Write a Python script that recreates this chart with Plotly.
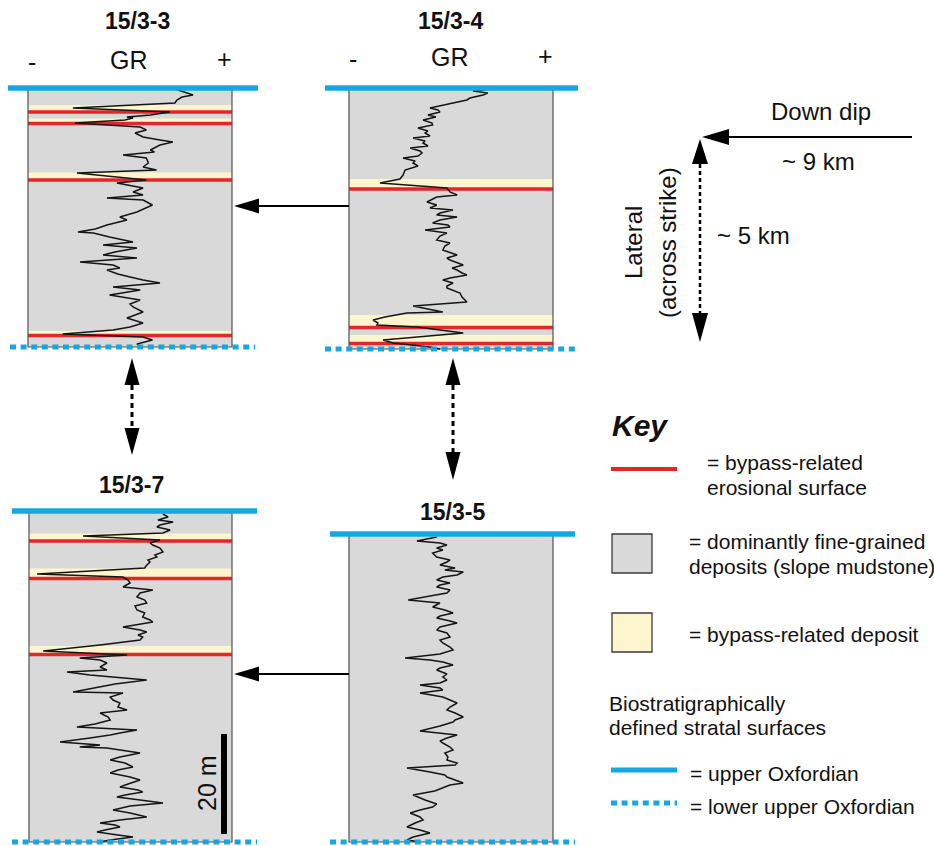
import plotly.graph_objects as go

W, H = 934, 846
FONT = "Liberation Sans, Arial, Helvetica, sans-serif"
BLUE = "#17a7e0"
RED = "#e3262b"
GREY = "#d9d9d9"
YELLOW = "#fcf5cd"
INK = "#151515"

# ---------------- data ----------------
well_names = ["15/3-3", "15/3-4", "15/3-7", "15/3-5"]
well_base_depth_m = [51.8, 52.2, 66.2, 61.6]

depth_15_3_3 = [0, 1.4, 1.8, 2.4, 3.0, 4.0, 4.8, 5.4, 5.8, 6.0, 6.4, 7.0, 7.8, 8.4, 9.0, 9.8, 10.4, 10.8, 11.4, 11.8,
                12.4, 12.8, 13.4, 14.0, 15.0, 15.8, 16.4, 17.0, 18.4, 19.0, 19.8, 20.0, 20.8, 21.4, 22.0, 22.4, 23.4,
                24.0, 24.8, 25.8, 26.4, 27.4, 28.2, 28.8, 29.0, 29.8, 30.4, 30.8, 31.4, 31.8, 32.0, 32.8, 33.4, 34.0,
                34.8, 35.4, 36.0, 36.4, 37.2, 37.8, 38.4, 39.0, 39.8, 40.4, 41.4, 42.4, 43.2, 43.8, 44.8, 45.4, 46.0,
                47.0, 47.8, 48.4, 49.2, 49.8, 50.4, 51.2, 51.8]
gr_15_3_3 = [70.6, 80.9, 75.5, 73, 72, 22, 69.6, 60, 48.5, 51.5, 47.5, 23, 55, 58, 52.5, 56.4, 64.7, 71, 64.7, 63,
             60, 62, 46.6, 58, 59, 56.4, 63, 24, 58, 43.6, 55, 56.4, 51.5, 56.4, 38.7, 56.4, 61,
             58, 53.4, 45, 48.5, 38.7, 33, 24.5, 32, 40, 47.5, 51.5, 36.8, 50, 53.4, 42.6, 36.8, 53.4,
             25.5, 41.7, 45, 38.7, 44, 50, 56.4, 64.7, 41.7, 55, 40, 55, 50, 51.5, 56.4, 52.5, 48.5,
             56.4, 50, 41.7, 17, 56.4, 61, 53.4, 55]
bypass_top_15_3_3 = [3.4, 6.1, 16.9, 48.6]
erosion_15_3_3 = [4.8, 7.1, 18.4, 49.5]

depth_15_3_4 = [0.2, 0.6, 1.0, 1.4, 2.0, 2.4, 3.0, 3.4, 3.6, 4.0, 4.4, 4.8, 5.4, 5.8, 6.4, 7.0, 7.4, 8.0, 8.6, 9.0,
                9.6, 10.0, 10.6, 11.0, 11.6, 12.0, 12.6, 13.0, 13.6, 14.0, 14.6, 15.0, 15.6, 16.4, 17.4, 18.2, 19.0,
                19.6, 20.0, 20.8, 21.4, 21.8, 22.8, 23.4, 24.0, 24.4, 25.0, 25.4, 25.8, 26.4, 27.0, 27.4, 27.8, 28.4,
                29.0, 29.6, 30.4, 31.0, 31.6, 32.4, 33.0, 33.4, 34.0, 34.4, 35.0, 35.4, 36.0, 36.4, 37.0, 37.4, 38.0,
                38.4, 39.0, 39.6, 40.0, 40.6, 41.0, 41.8, 42.8, 43.6, 44.2, 44.8, 45.0, 45.8, 46.4, 47.0, 47.4, 47.8,
                48.4, 49.0, 49.4, 49.8, 50.4, 51.0, 51.4, 51.8, 52.2]
gr_15_3_4 = [70, 60.8, 68, 65.7, 59.3, 57.8, 51, 46, 43, 39.7, 43.6, 44.6, 38.7, 42.6, 36.3, 40.7, 41, 33.8, 38.7, 37.3,
             39.7, 31.4, 37.3, 36.3, 38.7, 30, 34.8, 35.8, 33.8, 26.5, 32.4, 31.4, 33.8, 27.5, 26.5, 25, 15.2,
             34.8, 48, 49.5, 53, 43, 38.2, 43, 39.7, 51, 44.6, 43, 53, 44.6, 41, 48.5, 49.5, 37.3,
             48, 44.6, 43, 49.5, 47, 46, 50.5, 53, 48, 49.5, 53.4, 56, 50.5, 53, 55.4, 57.8, 49.5,
             46, 51, 48, 48, 52, 54.4, 55.4, 57.8, 31.4, 39.7, 46, 28.4, 17.6, 11.8, 14.2, 13.7, 33.3,
             44.6, 56, 44.6, 33.3, 16.7, 21.6, 30, 39.7, 44.6]
bypass_top_15_3_4 = [18.2, 45.4, 49.4]
erosion_15_3_4 = [20.2, 47.9, 51.1]

depth_15_3_7 = [0.6, 1.2, 1.8, 2.2, 2.8, 3.2, 3.8, 4.4, 5.0, 5.8, 6.4, 6.8, 7.4, 8.2, 8.8, 9.2, 9.8, 10.2, 11.0, 11.4,
                12.6, 13.2, 13.8, 14.4, 15.2, 15.8, 16.4, 17.2, 17.8, 18.4, 19.0, 19.8, 20.4, 21.2, 21.8, 22.2, 22.8,
                23.2, 23.8, 24.2, 24.8, 25.2, 25.8, 26.8, 28.0, 28.8, 29.4, 29.8, 30.4, 31.2, 31.8, 32.2, 32.8, 33.4,
                33.8, 34.6, 35.2, 35.8, 36.2, 36.4, 37.2, 37.8, 38.4, 39.2, 39.8, 40.4, 41.2, 41.8, 42.6, 43.2, 43.8,
                44.4, 44.8, 45.4, 46.2, 46.8, 47.2, 47.4, 48.0, 48.4, 49.2, 49.8, 50.4, 51.2, 51.8, 52.4, 53.2, 53.8,
                54.6, 55.2, 55.8, 56.2, 56.8, 57.2, 57.8, 58.4, 59.0, 59.8, 60.4, 61.2, 61.8, 62.4, 62.8, 63.2, 63.8,
                64.2, 64.8, 65.2, 65.8, 66.2]
gr_15_3_7 = [66, 68.5, 63.5, 71, 64.5, 63, 69.5, 66, 26.6, 64.5, 59.6, 61, 64.5, 66, 62, 63, 58.6, 59.6, 57.6, 57,
             4, 46.3, 48.8, 49.8, 46.3, 61, 54.7, 53.2, 57, 58, 52.2, 53.2, 57, 56, 59.6, 61, 52.2,
             46.3, 54.7, 58, 53.7, 56, 54.7, 35, 7, 48.3, 25, 35, 38.4, 35, 38.4, 18.7, 30, 44.8,
             58, 42.4, 35, 27.6, 21.7, 46.3, 40, 41.4, 44.8, 43.8, 48.3, 35, 39, 40, 32.5, 23.6, 53.2,
             44.8, 40, 30, 15.3, 35, 25, 38.4, 47.3, 54.7, 44.8, 40, 47.3, 51.2, 43.8, 40, 49.8, 54.7,
             48.8, 44.8, 53.7, 56, 47.3, 43.3, 54.7, 66, 49.8, 41.4, 49.8, 58, 44.8, 35, 42.4, 44.8, 37.4,
             33.5, 43.8, 51.2, 40, 35]
bypass_top_15_3_7 = [4.5, 11.5, 27.0]
erosion_15_3_7 = [6.0, 13.5, 28.7]

depth_15_3_5 = [0.6, 1.0, 1.4, 1.8, 2.2, 2.8, 3.2, 3.8, 4.6, 5.2, 5.6, 6.2, 6.8, 7.2, 7.6, 8.2, 8.6, 9.2, 9.8, 10.2,
                10.6, 11.2, 11.8, 12.4, 13.2, 13.8, 14.2, 14.6, 15.2, 15.8, 16.4, 16.8, 17.4, 17.8, 18.6, 19.2, 19.8,
                20.6, 21.2, 21.8, 22.6, 23.2, 24.0, 24.8, 25.2, 25.6, 26.2, 26.8, 27.2, 28.0, 28.6, 29.2, 29.8, 30.2,
                30.8, 31.2, 31.8, 32.6, 33.2, 33.8, 34.6, 35.2, 35.8, 36.6, 37.2, 37.6, 38.4, 39.4, 40.2, 40.8, 41.4,
                41.8, 42.6, 43.2, 43.8, 44.6, 45.2, 45.8, 46.2, 46.8, 47.6, 48.2, 48.6, 49.2, 49.8, 50.2, 50.8, 51.4,
                52.2, 53.2, 54.0, 54.6, 55.2, 55.8, 56.6, 57.2, 57.8, 58.6, 59.2, 59.8, 60.6, 61.2, 61.6]
gr_15_3_5 = [43, 37.3, 33.3, 44.6, 48, 43, 46, 41, 43, 49.5, 48, 44.6, 52, 47, 56, 53, 46, 43, 49.5, 44.6,
             43, 49.5, 48, 39.7, 29, 44.6, 43, 41, 47, 51, 44.6, 43, 49.5, 53, 44.6, 43, 48,
             49.5, 44.6, 46, 49.5, 51, 44.6, 27.5, 39.7, 46, 51, 44.6, 43, 48, 46, 48, 44.6, 34.8,
             44.6, 46, 34.8, 46, 49.5, 53, 49.5, 48, 52, 56, 52, 51, 44.6, 34.8, 53, 48, 44.6,
             46, 49.5, 51, 47, 48.5, 48, 53, 52, 28.4, 39.7, 47, 48, 52, 56, 49.5, 46, 42,
             31.4, 37.3, 43, 41, 34.8, 30, 34.8, 36.3, 32.4, 28.4, 34.8, 39.7, 31.4, 28.4, 34.8]
bypass_top_15_3_5 = []
erosion_15_3_5 = []

scale_bar_m = 20

# ---------------- layout geometry (pixels) ----------------
PX_PER_M = 5.0
geom = {
    "15/3-3": dict(box=(28, 232), top=88, top_line=(8, 258), base_line=(10, 255)),
    "15/3-4": dict(box=(349, 553), top=88, top_line=(325, 578), base_line=(325, 578)),
    "15/3-7": dict(box=(29, 232), top=511, top_line=(12, 257), base_line=(12, 257)),
    "15/3-5": dict(box=(349, 553), top=534, top_line=(330, 575), base_line=(330, 575)),
}

wells = [
    (well_names[0], depth_15_3_3, gr_15_3_3, bypass_top_15_3_3, erosion_15_3_3, well_base_depth_m[0]),
    (well_names[1], depth_15_3_4, gr_15_3_4, bypass_top_15_3_4, erosion_15_3_4, well_base_depth_m[1]),
    (well_names[2], depth_15_3_7, gr_15_3_7, bypass_top_15_3_7, erosion_15_3_7, well_base_depth_m[2]),
    (well_names[3], depth_15_3_5, gr_15_3_5, bypass_top_15_3_5, erosion_15_3_5, well_base_depth_m[3]),
]

fig = go.Figure()
shapes = []
annotations = []
axes = {}

for k, (name, dep, gr, btop, ero, base) in enumerate(wells, start=1):
    g = geom[name]
    bl, br = g["box"]
    s = (br - bl) / 100.0
    top = g["top"]
    bottom_px = top + base * PX_PER_M
    x0p = min(g["top_line"][0], g["base_line"][0]) - 4
    x1p = max(g["top_line"][1], g["base_line"][1]) + 4
    y0p = max(top - 10, 0)
    y1p = min(bottom_px + 10, H)
    xa = "x" if k == 1 else f"x{k}"
    ya = "y" if k == 1 else f"y{k}"
    axes["xaxis" if k == 1 else f"xaxis{k}"] = dict(
        domain=[x0p / W, x1p / W], range=[(x0p - bl) / s, (x1p - bl) / s],
        visible=False, anchor=ya, fixedrange=True)
    axes["yaxis" if k == 1 else f"yaxis{k}"] = dict(
        domain=[1 - y1p / H, 1 - y0p / H], range=[(y1p - top) / PX_PER_M, (y0p - top) / PX_PER_M],
        visible=False, anchor=xa, fixedrange=True)

    def add(sh, xa=xa, ya=ya):
        sh.update(xref=xa, yref=ya)
        shapes.append(sh)

    add(dict(type="rect", x0=0, x1=100, y0=0, y1=base, fillcolor=GREY, line=dict(width=0), layer="below"))
    for t, e in zip(btop, ero):
        add(dict(type="rect", x0=0, x1=100, y0=t, y1=e, fillcolor=YELLOW, line=dict(width=0), layer="below"))
    for e in ero:
        add(dict(type="line", x0=0, x1=100, y0=e, y1=e, line=dict(color=RED, width=3.5), layer="below"))
    add(dict(type="rect", x0=0, x1=100, y0=0, y1=base, fillcolor="rgba(0,0,0,0)",
             line=dict(color="#505050", width=1.2), layer="below"))
    add(dict(type="line", x0=(g["top_line"][0] - bl) / s, x1=(g["top_line"][1] - bl) / s, y0=0, y1=0,
             line=dict(color=BLUE, width=5.5), layer="above"))
    add(dict(type="line", x0=(g["base_line"][0] - bl) / s, x1=(g["base_line"][1] - bl) / s, y0=base, y1=base,
             line=dict(color=BLUE, width=5, dash="6px,4.6px"), layer="above"))

    fig.add_trace(go.Scatter(x=gr, y=dep, mode="lines", line=dict(color=INK, width=1.5),
                             xaxis=xa, yaxis=ya, hoverinfo="skip", showlegend=False))

    if name == "15/3-7":
        gx = (224 - bl) / s
        add(dict(type="line", x0=gx, x1=gx, y0=44.6, y1=44.6 + scale_bar_m,
                 line=dict(color="black", width=6), layer="above"))


# ---------------- helpers in pixel space ----------------
def P(x, y):
    return f"{x / W:.5f},{1 - y / H:.5f}"


def head(tip, base, half, color="black"):
    (tx, ty), (bx, by) = tip, base
    dx, dy = tx - bx, ty - by
    L = (dx * dx + dy * dy) ** 0.5
    nx, ny = -dy / L * half, dx / L * half
    path = f"M {P(tx, ty)} L {P(bx + nx, by + ny)} L {P(bx - nx, by - ny)} Z"
    shapes.append(dict(type="path", path=path, xref="paper", yref="paper",
                       fillcolor=color, line=dict(width=0)))


def seg(x0, y0, x1, y1, width=2, dash=None, color="black"):
    ln = dict(color=color, width=width)
    if dash:
        ln["dash"] = dash
    shapes.append(dict(type="line", xref="paper", yref="paper", x0=x0 / W, y0=1 - y0 / H,
                       x1=x1 / W, y1=1 - y1 / H, line=ln))


def box(x0, y0, x1, y1, fill):
    shapes.append(dict(type="rect", xref="paper", yref="paper", x0=x0 / W, y0=1 - y1 / H,
                       x1=x1 / W, y1=1 - y0 / H, fillcolor=fill, line=dict(color="#3a3a3a", width=1.3)))


def text(x, y, t, size, xanchor="center", angle=0, color="#111"):
    annotations.append(dict(x=x / W, y=1 - y / H, xref="paper", yref="paper", text=t, showarrow=False,
                            xanchor=xanchor, yanchor="middle", textangle=angle,
                            font=dict(family=FONT, size=size, color=color)))


# correlation arrows between wells
seg(256, 206, 349, 206, 2)
head((234, 206), (259, 206), 7.5)
seg(256, 674, 349, 674, 2)
head((234, 674), (259, 674), 7.5)

head((132, 358), (132, 385), 7.5)
seg(132, 385, 132, 428, 3, "5px,4px")
head((132, 455), (132, 428), 7.5)

head((453, 358), (453, 385), 7.5)
seg(453, 385, 453, 452, 3, "5px,4px")
head((453, 480), (453, 452), 7.5)

# compass
seg(727, 137, 912, 137, 2)
head((702, 137), (729, 137), 8)
head((700, 139), (700, 164), 8)
seg(700, 164, 700, 314, 2.5, "4px,3px")
head((700, 342), (700, 313), 8)

text(821, 112, "Down dip", 24)
text(818, 162, "~ 9 km", 24)
text(753, 236, "~ 5 km", 24)
text(633, 243, "Lateral", 24, angle=-90)
text(667, 243, "(across strike)", 24, angle=-90)

# well headers
text(137, 21, "<b>15/3-3</b>", 23)
text(32, 62, "-", 25)
text(129, 60, "GR", 25)
text(224, 59, "+", 25)
text(450, 21, "<b>15/3-4</b>", 23)
text(353, 59, "-", 25)
text(450, 57, "GR", 25)
text(545, 56, "+", 25)
text(131, 485, "<b>15/3-7</b>", 23)
text(452, 512, "<b>15/3-5</b>", 23)
text(207, 783, "20 m", 25, angle=-90)

# key
text(640, 426, "<b><i>Key</i></b>", 30)
seg(611, 469, 677, 469, 4, color=RED)
text(705, 462, "= bypass-related", 21, "left")
text(705, 487, "erosional surface", 21, "left")
box(612, 534, 652, 573, GREY)
text(687, 541, "= dominantly fine-grained", 21, "left")
text(687, 566, "deposits (slope mudstone)", 21, "left")
box(612, 613, 652, 652, YELLOW)
text(687, 634, "= bypass-related deposit", 21, "left")
text(607, 703, "Biostratigraphically", 21, "left")
text(607, 727, "defined stratal surfaces", 21, "left")
seg(611, 770, 677, 770, 5, color=BLUE)
text(688, 773, "= upper Oxfordian", 21, "left")
seg(611, 803, 677, 803, 5, "6px,4.6px", BLUE)
text(688, 806, "= lower upper Oxfordian", 21, "left")

fig.update_layout(
    width=W, height=H, margin=dict(l=0, r=0, t=0, b=0),
    paper_bgcolor="white", plot_bgcolor="rgba(0,0,0,0)",
    shapes=shapes, annotations=annotations, showlegend=False,
    **axes,
)

fig.write_html("out.html", config={"displayModeBar": False, "staticPlot": True},
               post_script="document.body.style.margin='0';")
